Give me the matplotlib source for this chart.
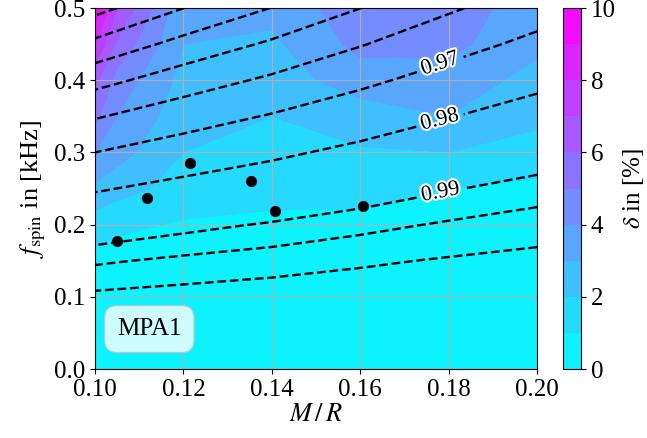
import numpy as np
import matplotlib.pyplot as plt
import matplotlib.patheffects as pe

plt.rcParams['font.family'] = 'serif'
plt.rcParams['font.serif'] = ['Liberation Serif', 'DejaVu Serif']
plt.rcParams['mathtext.fontset'] = 'stix'
plt.rcParams['font.size'] = 18

# spin frequency rows shared by both tables (kHz)
f_spin = [0.0, 0.05, 0.10, 0.15, 0.20, 0.25, 0.30, 0.35, 0.40, 0.45, 0.50]

# deviation delta in %
mr_delta = [0.100, 0.105, 0.12, 0.14, 0.16, 0.18, 0.20]
delta = [
    [0.1, 0.1, 0.1, 0.1, 0.1, 0.1, 0.1],
    [0.2, 0.2, 0.2, 0.2, 0.2, 0.2, 0.2],
    [0.4, 0.4, 0.3, 0.3, 0.3, 0.3, 0.3],
    [0.7, 0.6, 0.5, 0.4, 0.4, 0.4, 0.4],
    [1.5, 1.2, 0.9, 0.8, 0.7, 0.6, 0.5],
    [2.8, 2.4, 1.6, 1.3, 1.4, 1.0, 0.8],
    [4.0, 3.4, 2.0, 1.5, 1.9, 2.0, 1.5],
    [5.3, 4.0, 2.4, 2.0, 2.5, 3.0, 2.3],
    [6.3, 4.6, 2.7, 2.5, 3.5, 3.5, 2.7],
    [8.0, 5.8, 3.0, 2.8, 4.3, 4.3, 3.2],
    [9.8, 7.0, 3.2, 3.3, 4.6, 4.4, 3.6],
]

# ratio shown by the dashed contours
mr_ratio = [0.10, 0.12, 0.14, 0.16, 0.18, 0.20]
ratio = [
    [1.0000, 1.0000, 1.0000, 1.0000, 1.0000, 1.0000],
    [0.9992, 0.9993, 0.9994, 0.9995, 0.9996, 0.9997],
    [0.9967, 0.9972, 0.9976, 0.9980, 0.9983, 0.9986],
    [0.9925, 0.9937, 0.9946, 0.9955, 0.9963, 0.9969],
    [0.9867, 0.9888, 0.9904, 0.9920, 0.9934, 0.9945],
    [0.9792, 0.9825, 0.9850, 0.9875, 0.9897, 0.9914],
    [0.9700, 0.9748, 0.9785, 0.9820, 0.9851, 0.9877],
    [0.9592, 0.9656, 0.9707, 0.9755, 0.9797, 0.9832],
    [0.9467, 0.9551, 0.9617, 0.9680, 0.9736, 0.9781],
    [0.9325, 0.9432, 0.9515, 0.9594, 0.9665, 0.9723],
    [0.9167, 0.9299, 0.9402, 0.9499, 0.9587, 0.9658],
]
plain_levels = [0.92, 0.93, 0.94, 0.95, 0.96, 0.993, 0.996]
labelled = [0.97, 0.98, 0.99]

# simulated models
model_mr = [0.1050, 0.1118, 0.1215, 0.1353, 0.1407, 0.1606]
model_f = [0.177, 0.237, 0.285, 0.260, 0.219, 0.226]

fig = plt.figure(figsize=(6.47, 4.38), dpi=100)
ax = fig.add_axes([0.1468, 0.1575, 0.6832, 0.8242])
cax = fig.add_axes([0.870, 0.1575, 0.028, 0.8242])

cf = ax.contourf(mr_delta, f_spin, delta, levels=np.arange(0, 11, 1), cmap='cool', zorder=0)
ax.contour(mr_ratio, f_spin, ratio, levels=plain_levels, colors='k',
           linestyles='--', linewidths=1.7, zorder=2)
cs = ax.contour(mr_ratio, f_spin, ratio, levels=labelled, colors='k',
                linestyles='--', linewidths=1.7, zorder=2)
lbl = ax.clabel(cs, fmt='%.2f', inline=True, fontsize=16,
                manual=[(0.178, 0.424), (0.178, 0.345), (0.178, 0.25)])
for t in lbl:
    t.set_path_effects([pe.withStroke(linewidth=3, foreground='white')])

ax.plot(model_mr, model_f, 'o', color='k', markersize=7, zorder=3)

ax.grid(True, color='#b0b0b0', linewidth=0.8)
ax.set_xlim(0.10, 0.20)
ax.set_ylim(0.0, 0.5)
ax.set_xticks(np.arange(0.10, 0.201, 0.02))
ax.set_xlabel(r'$M\,/\,R$', fontsize=19, labelpad=2)
ax.set_ylabel(r'$f_{\mathrm{spin}}$ in [kHz]', fontsize=19)

ax.text(0.05, 0.094, 'MPA1', transform=ax.transAxes, fontsize=18, va='baseline', zorder=4,
        bbox=dict(boxstyle='round,pad=0.5', facecolor='white', alpha=0.8, edgecolor='#c0c0c0'))

cb = fig.colorbar(cf, cax=cax, ticks=range(0, 11, 2))
cb.set_label(r'$\delta$ in [%]', fontsize=18)

fig.savefig('out.png', dpi=100)
